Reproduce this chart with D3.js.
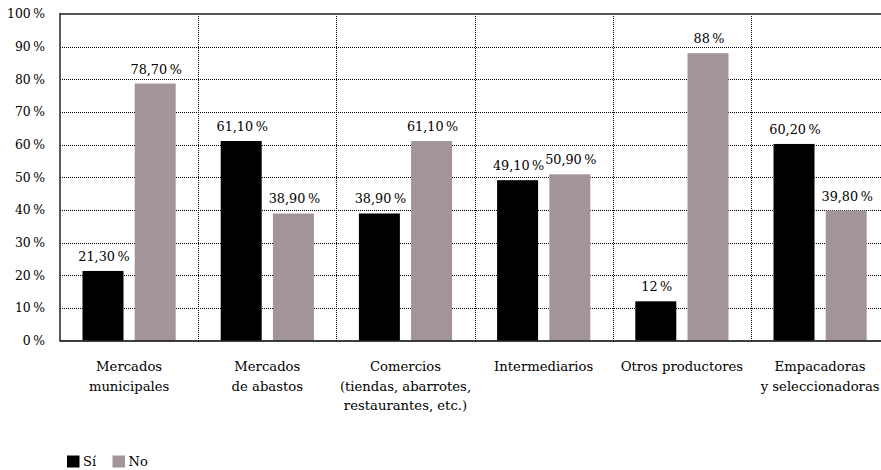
<!DOCTYPE html>
<html><head><meta charset="utf-8">
<script src="https://cdn.jsdelivr.net/npm/d3@7"></script>
<style>
html,body{margin:0;padding:0;background:#fff;}
svg text{font-family:"DejaVu Serif",serif;fill:#000;}
</style></head>
<body><svg id="c" width="881" height="470"></svg>
<script>
const categories = [
  ["Mercados","municipales"],
  ["Mercados","de abastos"],
  ["Comercios","(tiendas, abarrotes,","restaurantes, etc.)"],
  ["Intermediarios"],
  ["Otros productores"],
  ["Empacadoras","y seleccionadoras"]
];
const series = ["Sí","No"];
const siValues = [21.3, 61.1, 38.9, 49.1, 12, 60.2];
const noValues = [78.7, 38.9, 61.1, 50.9, 88, 39.8];
const yTicks = [0,10,20,30,40,50,60,70,80,90,100];
const colors = ["#000000","#a3949b"];

const svg = d3.select("#c");
const pLeft = 60, pTop = 14, pBottom = 340.5, catW = 138.2;
const catIdx = categories.map((c,i)=>i);
const x0 = d3.scaleBand().domain(catIdx).range([pLeft, pLeft + catW*categories.length]).paddingInner(0).paddingOuter(0);
const x1 = d3.scaleBand().domain(series).range([22.5, 115.7]).paddingInner(0.215).paddingOuter(0);
const y = d3.scaleLinear().domain([0,100]).range([pBottom, pTop]);

const pct = v => (v % 1 === 0 ? String(v) : v.toFixed(2).replace(".", ",")) + "\u2009%";

// horizontal grid
svg.append("g").selectAll("line").data(yTicks.filter(t=>t>0 && t<100)).join("line")
  .attr("x1", pLeft).attr("x2", 881)
  .attr("y1", d=>Math.round(y(d))+0.5).attr("y2", d=>Math.round(y(d))+0.5)
  .attr("stroke","#000").attr("stroke-width",1).attr("stroke-dasharray","1,1");
// vertical grid
svg.append("g").selectAll("line").data(catIdx.slice(1)).join("line")
  .attr("x1", d=>Math.round(x0(d))+0.5).attr("x2", d=>Math.round(x0(d))+0.5)
  .attr("y1", pTop).attr("y2", pBottom)
  .attr("stroke","#000").attr("stroke-width",1).attr("stroke-dasharray","1,1");

// bars
const rows = catIdx.map(i => [siValues[i], noValues[i]]);
const g = svg.append("g");
rows.forEach((vals,i)=>{
  vals.forEach((v,j)=>{
    const bx = x0(i) + x1(series[j]);
    g.append("rect").attr("x", bx).attr("y", y(v))
      .attr("width", x1.bandwidth()).attr("height", y(0)-y(v))
      .attr("fill", colors[j]);
    g.append("text").attr("x", bx + x1.bandwidth()/2 + 1).attr("y", y(v) - 10)
      .attr("text-anchor","middle").attr("font-size","12.8px").text(pct(v));
  });
});

// axes lines
svg.append("line").attr("x1", pLeft).attr("x2", 881).attr("y1", pTop).attr("y2", pTop)
  .attr("stroke","#555").attr("stroke-width",2);
svg.append("line").attr("x1", pLeft).attr("x2", pLeft).attr("y1", pTop-1).attr("y2", pBottom+1)
  .attr("stroke","#222").attr("stroke-width",1.5);
svg.append("line").attr("x1", pLeft).attr("x2", 881).attr("y1", pBottom+0.5).attr("y2", pBottom+0.5)
  .attr("stroke","#000").attr("stroke-width",1.5);

// y tick labels
const yAxis = d3.axisLeft(y).tickValues(yTicks).tickSize(0).tickPadding(15).tickFormat(d => d + "\u2009%");
const ya = svg.append("g").attr("transform", `translate(${pLeft},0)`).call(yAxis);
ya.select(".domain").remove();
ya.selectAll("text").attr("font-size","12.4px").attr("font-family","DejaVu Serif").attr("fill","#000");

// x labels
categories.forEach((lines,i)=>{
  const t = svg.append("text").attr("text-anchor","middle").attr("font-size","13.2px");
  lines.forEach((ln,k)=>{
    t.append("tspan").attr("x", x0(i)+catW/2).attr("y", 371 + k*19.5).text(ln);
  });
});

// legend
const leg = svg.append("g");
const legX = [67, 112.5];
series.forEach((s,j)=>{
  leg.append("rect").attr("x", legX[j]).attr("y", 455.5).attr("width", 12.5).attr("height", 12).attr("fill", colors[j]);
  leg.append("text").attr("x", legX[j]+16).attr("y", 466).attr("font-size","13px").text(s);
});
</script></body></html>
